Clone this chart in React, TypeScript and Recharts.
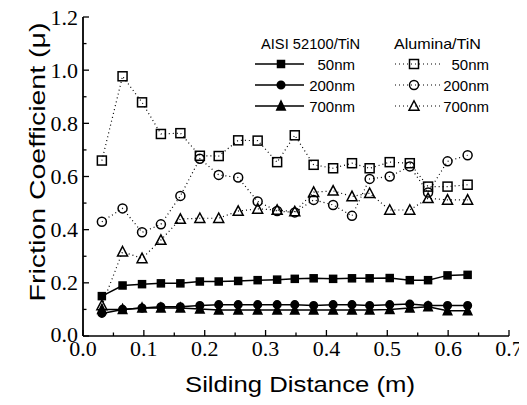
import React from "react";
import { LineChart, Line, XAxis, YAxis, Legend } from "recharts";

// sliding distance (m)
const distance = [
  0.031, 0.065, 0.097, 0.128, 0.16, 0.192, 0.223, 0.255, 0.287, 0.319,
  0.348, 0.379, 0.411, 0.442, 0.471, 0.504, 0.537, 0.567, 0.599, 0.632,
];

// AISI 52100/TiN
const aisi50 = [
  0.15, 0.19, 0.195, 0.198, 0.198, 0.205, 0.205, 0.207, 0.21, 0.212,
  0.215, 0.217, 0.215, 0.217, 0.217, 0.218, 0.21, 0.21, 0.228, 0.23,
];
const aisi200 = [
  0.085, 0.1, 0.105, 0.11, 0.11, 0.115, 0.118, 0.118, 0.118, 0.118,
  0.118, 0.115, 0.118, 0.118, 0.115, 0.118, 0.12, 0.115, 0.115, 0.115,
];
const aisi700 = [
  0.1, 0.1, 0.105, 0.105, 0.105, 0.102, 0.098, 0.098, 0.098, 0.098,
  0.098, 0.098, 0.098, 0.098, 0.098, 0.1, 0.105, 0.11, 0.095, 0.095,
];

// Alumina/TiN
const alumina50 = [
  0.66, 0.977, 0.879, 0.76, 0.763, 0.678, 0.677, 0.736, 0.735, 0.654,
  0.755, 0.644, 0.631, 0.65, 0.631, 0.654, 0.65, 0.562, 0.562, 0.569,
];
const alumina200 = [
  0.43, 0.48, 0.39, 0.42, 0.527, 0.667, 0.606, 0.596, 0.506, 0.47,
  0.465, 0.512, 0.493, 0.452, 0.591, 0.6, 0.638, 0.54, 0.657, 0.68,
];
const alumina700 = [
  0.115, 0.317, 0.292, 0.361, 0.44, 0.443, 0.443, 0.47, 0.478, 0.474,
  0.468, 0.541, 0.546, 0.525, 0.537, 0.474, 0.474, 0.518, 0.512, 0.512,
];

const xTicks = [
  0, 0.05, 0.1, 0.15, 0.2, 0.25, 0.3, 0.35, 0.4, 0.45, 0.5, 0.55, 0.6, 0.65, 0.7,
];
const yTicks = [0, 0.1, 0.2, 0.3, 0.4, 0.5, 0.6, 0.7, 0.8, 0.9, 1.0, 1.1, 1.2];

const data = distance.map((x, i) => ({
  x,
  aisi50: aisi50[i],
  aisi200: aisi200[i],
  aisi700: aisi700[i],
  alumina50: alumina50[i],
  alumina200: alumina200[i],
  alumina700: alumina700[i],
}));

const SERIF = "'Liberation Serif', 'DejaVu Serif', serif";
const SANS = "'Liberation Sans', Arial, sans-serif";

const isMajorX = (v: number) => Math.abs(v * 10 - Math.round(v * 10)) < 1e-6;
const isMajorY = (v: number) => Math.abs(v * 5 - Math.round(v * 5)) < 1e-6;

type Shape = "square" | "circle" | "triangle";

function Marker({ cx, cy, shape, filled }: { cx: number; cy: number; shape: Shape; filled: boolean }) {
  if (cx == null || cy == null) return null;
  const fill = filled ? "#000" : "none";
  const sw = 1.5;
  if (shape === "square") {
    const s = filled ? 7 : 9;
    return <rect x={cx - s / 2} y={cy - s / 2} width={s} height={s} fill={fill} stroke="#000" strokeWidth={sw} />;
  }
  if (shape === "circle") {
    return <circle cx={cx} cy={cy} r={filled ? 3.8 : 4.5} fill={fill} stroke="#000" strokeWidth={sw} />;
  }
  const h = filled ? 8 : 8.5;
  const w = filled ? 8.5 : 10;
  return (
    <polygon
      points={`${cx},${cy - h / 2 - 1} ${cx + w / 2},${cy + h / 2} ${cx - w / 2},${cy + h / 2}`}
      fill={fill}
      stroke="#000"
      strokeWidth={sw}
      strokeLinejoin="miter"
    />
  );
}

const dotFor = (shape: Shape, filled: boolean) => (p: any) =>
  <Marker key={`${shape}-${filled}-${p.index}`} cx={p.cx} cy={p.cy} shape={shape} filled={filled} />;

function BottomTick({ x, y, payload }: any) {
  const v = payload.value;
  const major = isMajorX(v);
  return (
    <g>
      <line x1={x} y1={y} x2={x} y2={y - (major ? 6 : 3.5)} stroke="#000" strokeWidth={1.3} />
      {major && (
        <text x={x} y={y + 20} textAnchor="middle" fontFamily={SERIF} fontSize={22} fill="#000">
          {v.toFixed(1)}
        </text>
      )}
    </g>
  );
}

function TopTick({ x, y, payload }: any) {
  const major = isMajorX(payload.value);
  return <line x1={x} y1={y} x2={x} y2={y + (major ? 6 : 3.5)} stroke="#000" strokeWidth={1.3} />;
}

function LeftTick({ x, y, payload }: any) {
  const v = payload.value;
  const major = isMajorY(v);
  return (
    <g>
      <line x1={x} y1={y} x2={x + (major ? 6 : 3.5)} y2={y} stroke="#000" strokeWidth={1.3} />
      {major && (
        <text x={x - 5} y={y + (v === 0 ? 5.5 : 7.5)} textAnchor="end" fontFamily={SERIF} fontSize={22} fill="#000">
          {v.toFixed(1)}
        </text>
      )}
    </g>
  );
}

function RightTick({ x, y, payload }: any) {
  const major = isMajorY(payload.value);
  return <line x1={x} y1={y} x2={x - (major ? 6 : 3.5)} y2={y} stroke="#000" strokeWidth={1.3} />;
}

const legendRows: { label: string; shape: Shape }[] = [
  { label: "50nm", shape: "square" },
  { label: "200nm", shape: "circle" },
  { label: "700nm", shape: "triangle" },
];

// legend box local coords = page coords - (250, 30)
function LegendBox() {
  const rowY = [34, 55, 76];
  return (
    <svg width={260} height={95} style={{ display: "block" }}>
      <text x={11} y={19} fontFamily={SANS} fontSize={15} textLength={99} lengthAdjust="spacingAndGlyphs" fill="#000">
        AISI 52100/TiN
      </text>
      <text x={144} y={19} fontFamily={SANS} fontSize={15} textLength={87} lengthAdjust="spacingAndGlyphs" fill="#000">
        Alumina/TiN
      </text>
      {legendRows.map((r, i) => (
        <g key={r.label}>
          <line x1={5} y1={rowY[i]} x2={54} y2={rowY[i]} stroke="#000" strokeWidth={1.5} />
          <Marker cx={31} cy={rowY[i]} shape={r.shape} filled />
          <text x={105} y={rowY[i] + 5.5} textAnchor="end" fontFamily={SANS} fontSize={15} fill="#000">
            {r.label}
          </text>
          <line x1={145} y1={rowY[i]} x2={190} y2={rowY[i]} stroke="#000" strokeWidth={1.2} strokeDasharray="1 3" />
          <Marker cx={164} cy={rowY[i]} shape={r.shape} filled={false} />
          <text x={239} y={rowY[i] + 5.5} textAnchor="end" fontFamily={SANS} fontSize={15} fill="#000">
            {r.label}
          </text>
        </g>
      ))}
    </svg>
  );
}

export default function App() {
  return (
    <div style={{ position: "relative", width: 519, height: 389 }}>
      <style>{".recharts-wrapper, .recharts-surface { overflow: visible !important; }"}</style>
      <LineChart width={519} height={389} data={data} margin={{ top: 9, right: 18, bottom: 0, left: 0 }}>
        <XAxis
          xAxisId={0}
          dataKey="x"
          type="number"
          domain={[0, 0.7]}
          ticks={xTicks}
          interval={0}
          height={61}
          tickSize={0}
          tickMargin={0}
          tickLine={false}
          tick={BottomTick}
          axisLine={{ stroke: "#000", strokeWidth: 1.6 }}
        />
        <XAxis
          xAxisId="top"
          orientation="top"
          type="number"
          domain={[0, 0.7]}
          ticks={xTicks}
          interval={0}
          height={0}
          tickSize={0}
          tickMargin={0}
          tickLine={false}
          tick={TopTick}
          axisLine={{ stroke: "#000", strokeWidth: 1.6 }}
        />
        <YAxis
          yAxisId={0}
          type="number"
          domain={[0, 1.2]}
          ticks={yTicks}
          interval={0}
          width={75}
          tickSize={0}
          tickMargin={0}
          tickLine={false}
          tick={LeftTick}
          axisLine={{ stroke: "#000", strokeWidth: 1.8 }}
        />
        <YAxis
          yAxisId="right"
          orientation="right"
          type="number"
          domain={[0, 1.2]}
          ticks={yTicks}
          interval={0}
          width={0}
          tickSize={0}
          tickMargin={0}
          tickLine={false}
          tick={RightTick}
          axisLine={{ stroke: "#000", strokeWidth: 1.6 }}
        />
        <Legend
          layout="vertical"
          align="center"
          verticalAlign="middle"
          wrapperStyle={{ position: "absolute", left: 242, top: 22, width: 260, height: 95 }}
          content={() => <LegendBox />}
        />
        <Line dataKey="alumina50" stroke="#000" strokeWidth={1.2} strokeDasharray="1 3" dot={dotFor("square", false)} isAnimationActive={false} />
        <Line dataKey="alumina200" stroke="#000" strokeWidth={1.2} strokeDasharray="1 3" dot={dotFor("circle", false)} isAnimationActive={false} />
        <Line dataKey="alumina700" stroke="#000" strokeWidth={1.2} strokeDasharray="1 3" dot={dotFor("triangle", false)} isAnimationActive={false} />
        <Line dataKey="aisi50" stroke="#000" strokeWidth={1.5} dot={dotFor("square", true)} isAnimationActive={false} />
        <Line dataKey="aisi200" stroke="#000" strokeWidth={1.5} dot={dotFor("circle", true)} isAnimationActive={false} />
        <Line dataKey="aisi700" stroke="#000" strokeWidth={1.5} dot={dotFor("triangle", true)} isAnimationActive={false} />
      </LineChart>
      <svg
        width={519}
        height={389}
        style={{ position: "absolute", left: 0, top: 0, pointerEvents: "none" }}
      >
        <text
          x={292}
          y={384}
          textAnchor="middle"
          fontFamily={SANS}
          fontSize={22}
          textLength={230}
          lengthAdjust="spacingAndGlyphs"
          fill="#000"
        >
          Silding Distance (m)
        </text>
        <text
          x={37}
          y={154}
          transform="rotate(-90 37 154)"
          textAnchor="middle"
          fontFamily={SANS}
          fontSize={22}
          textLength={279}
          lengthAdjust="spacingAndGlyphs"
          fill="#000"
        >
          Friction Coefficient (μ)
        </text>
      </svg>
    </div>
  );
}
